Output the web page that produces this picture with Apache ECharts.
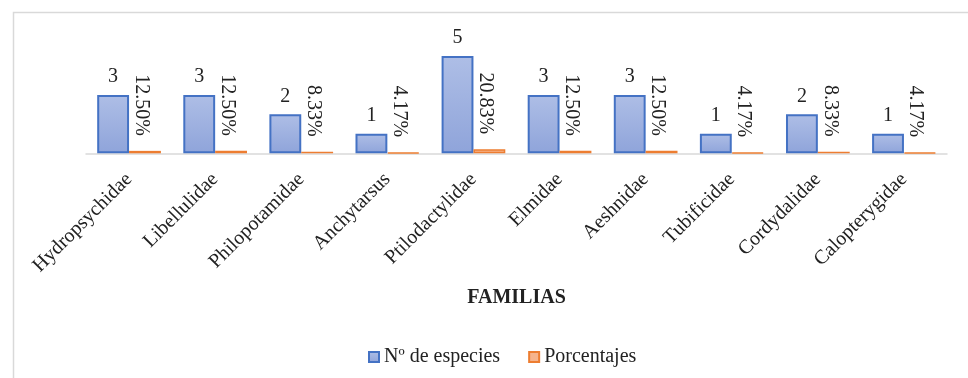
<!DOCTYPE html>
<html>
<head>
<meta charset="utf-8">
<script src="https://cdn.jsdelivr.net/npm/echarts@6/dist/echarts.min.js"></script>
<style>
html,body{margin:0;padding:0;background:#fff;}
#c{width:968px;height:378px;}
</style>
</head>
<body>
<div id="c"></div>
<script>
const categories = ['Hydropsychidae','Libellulidae','Philopotamidae','Anchytarsus','Ptilodactylidae','Elmidae','Aeshnidae','Tubificidae','Cordydalidae','Calopterygidae'];
const species = [3,3,2,1,5,3,3,1,2,1];
const percentages = [0.125,0.125,0.0833,0.0417,0.2083,0.125,0.125,0.0417,0.0833,0.0417];
const seriesNames = ['Nº de especies','Porcentajes'];
const axisTitle = 'FAMILIAS';

const FONT = "'Liberation Serif','Times New Roman',serif";
const chart = echarts.init(document.getElementById('c'), null, {renderer:'canvas'});
chart.setOption({
  animation:false,
  backgroundColor:'#fff',
  graphic:[{
    type:'rect', silent:true, z:-1,
    shape:{x:13.5,y:12.5,width:1200,height:600},
    style:{fill:'none',stroke:'#d9d9d9',lineWidth:1.5}
  }],
  grid:{left:86,right:21,top:36.5,bottom:224.7,containLabel:false},
  legend:{
    data:seriesNames, left:363, top:342, itemGap:28,
    icon:'rect', itemWidth:10, itemHeight:10,
    textStyle:{fontFamily:FONT,fontSize:20,color:'#222'}
  },
  xAxis:{
    type:'category', data:categories,
    axisLine:{lineStyle:{color:'#d9d9d9',width:1.5}},
    axisTick:{show:false},
    axisLabel:{rotate:45,margin:23,fontFamily:FONT,fontSize:20,color:'#222',interval:0},
    name:axisTitle, nameLocation:'middle', nameGap:135,
    nameTextStyle:{fontFamily:FONT,fontSize:20,fontWeight:'bold',color:'#222'}
  },
  yAxis:{type:'value',min:0,max:6,show:false,splitLine:{show:false}},
  series:[
    {
      name:seriesNames[0], type:'bar', data:species,
      barGap:'0%', barCategoryGap:'26%',
      itemStyle:{
        color:new echarts.graphic.LinearGradient(0,0,0,1,[{offset:0,color:'#aebee6'},{offset:1,color:'#8fa4da'}]),
        borderColor:'#4472c4', borderWidth:2
      },
      label:{show:true,position:'top',distance:8,fontFamily:FONT,fontSize:20,color:'#222'}
    },
    {
      name:seriesNames[1], type:'bar', data:percentages,
      itemStyle:{color:'#f6b48c',borderColor:'#ed7d31',borderWidth:1.5},
      label:{
        show:true, position:[12,-15], rotate:-90, align:'right', verticalAlign:'middle',
        fontFamily:FONT, fontSize:20, color:'#222',
        formatter:p=>(p.value*100).toFixed(2)+'%'
      }
    }
  ]
});
</script>
</body>
</html>
